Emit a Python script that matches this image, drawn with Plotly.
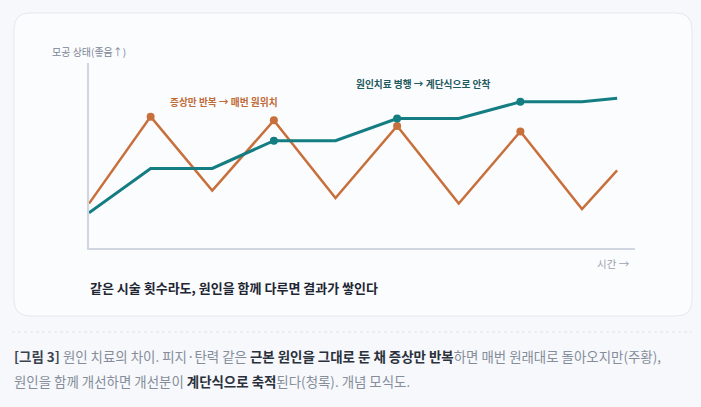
import plotly.graph_objects as go

W, H = 701, 407

# time steps (same number of treatments) and condition score (0-100, higher = better)
time_steps = [0, 1, 2, 3, 4, 5, 6, 7, 8, 8.57]
symptom_only = [24, 71, 31, 69, 27, 66, 24, 63, 21, 42]
cause_treated = [19, 43, 43, 58, 58, 70, 70, 79, 79, 81]
symptom_marks = [0, 1, 0, 1, 0, 1, 0, 1, 0, 0]
cause_marks = [0, 0, 0, 1, 0, 1, 0, 1, 0, 0]

ORANGE = "#c8703c"
TEAL = "#137d82"
FONT = "Noto Sans CJK KR"


def px(x):
    return x / W


def py(y):
    return 1 - y / H


def round_rect(x0, y0, x1, y1, r):
    rx, ry = r / W, r / H
    a, b, c, d = px(x0), py(y0), px(x1), py(y1)
    return (f"M{a + rx},{b} L{c - rx},{b} Q{c},{b} {c},{b - ry} "
            f"L{c},{d + ry} Q{c},{d} {c - rx},{d} L{a + rx},{d} "
            f"Q{a},{d} {a},{d + ry} L{a},{b - ry} Q{a},{b} {a + rx},{b} Z")


fig = go.Figure()
fig.add_trace(go.Scatter(
    x=time_steps, y=symptom_only, mode="lines+markers",
    line=dict(color=ORANGE, width=2.5),
    marker=dict(color=ORANGE, size=[8 * m for m in symptom_marks],
                line=dict(width=0), opacity=1),
    hoverinfo="skip", showlegend=False,
))
fig.add_trace(go.Scatter(
    x=time_steps, y=cause_treated, mode="lines+markers",
    line=dict(color=TEAL, width=3),
    marker=dict(color=TEAL, size=[8 * m for m in cause_marks],
                line=dict(width=0), opacity=1),
    hoverinfo="skip", showlegend=False,
))

fig.update_layout(
    width=W, height=H,
    margin=dict(l=0, r=0, t=0, b=0),
    paper_bgcolor="#f6f8fb",
    plot_bgcolor="rgba(0,0,0,0)",
    font=dict(family=FONT),
    xaxis=dict(domain=[px(89), px(635)], range=[0, 8.86], showgrid=False,
               zeroline=False, showticklabels=False, ticks="",
               showline=True, linecolor="#cfd6e0", linewidth=1.5,
               fixedrange=True),
    yaxis=dict(domain=[py(248), py(63)], range=[0, 100], showgrid=False,
               zeroline=False, showticklabels=False, ticks="",
               showline=True, linecolor="#cfd6e0", linewidth=1.5,
               fixedrange=True),
    shapes=[
        dict(type="path", xref="paper", yref="paper", layer="below",
             path=round_rect(14, 13, 692, 316, 16),
             fillcolor="#fbfcfe", line=dict(color="#e3e8ef", width=1)),
        dict(type="line", xref="paper", yref="paper", layer="below",
             x0=px(12), x1=px(692), y0=py(332), y1=py(332),
             line=dict(color="#dfe4eb", width=1, dash="3px,3px")),
    ],
)

notes = [
    dict(x=px(50), y=py(52), text="모공 상태(좋음↑)", xanchor="left",
         font=dict(size=10, color="#7b8494")),
    dict(x=px(632), y=py(263), text="시간 →", xanchor="right",
         font=dict(size=10.5, color="#9aa2ae")),
    dict(x=px(224), y=py(102), text="<b>증상만 반복 → 매번 원위치</b>",
         xanchor="center", font=dict(size=9.7, color="#c06a37")),
    dict(x=px(423), y=py(84), text="<b>원인치료 병행 → 계단식으로 안착</b>",
         xanchor="center", font=dict(size=9.7, color="#1f5a60")),
    dict(x=px(88), y=py(287), text="<b>같은 시술 횟수라도, 원인을 함께 다루면 결과가 쌓인다</b>",
         xanchor="left", font=dict(size=13, color="#1f2633")),
    dict(x=px(12), y=py(356),
         text="<b><span style='color:#3b4350'>[그림 3]</span></b> 원인 치료의 차이. 피지·탄력 같은 "
              "<b><span style='color:#2a313c'>근본 원인을 그대로 둔 채 증상만 반복</span></b>"
              "하면 매번 원래대로 돌아오지만(주황),",
         xanchor="left", font=dict(size=13.45, color="#858d9a")),
    dict(x=px(12), y=py(381),
         text="원인을 함께 개선하면 개선분이 "
              "<b><span style='color:#2a313c'>계단식으로 축적</span></b>"
              "된다(청록). 개념 모식도.",
         xanchor="left", font=dict(size=13.45, color="#858d9a")),
]
for n in notes:
    fig.add_annotation(xref="paper", yref="paper", yanchor="middle",
                       showarrow=False, **n)

fig.write_html("out.html", config={"displayModeBar": False},
               post_script="document.body.style.margin='0';")
